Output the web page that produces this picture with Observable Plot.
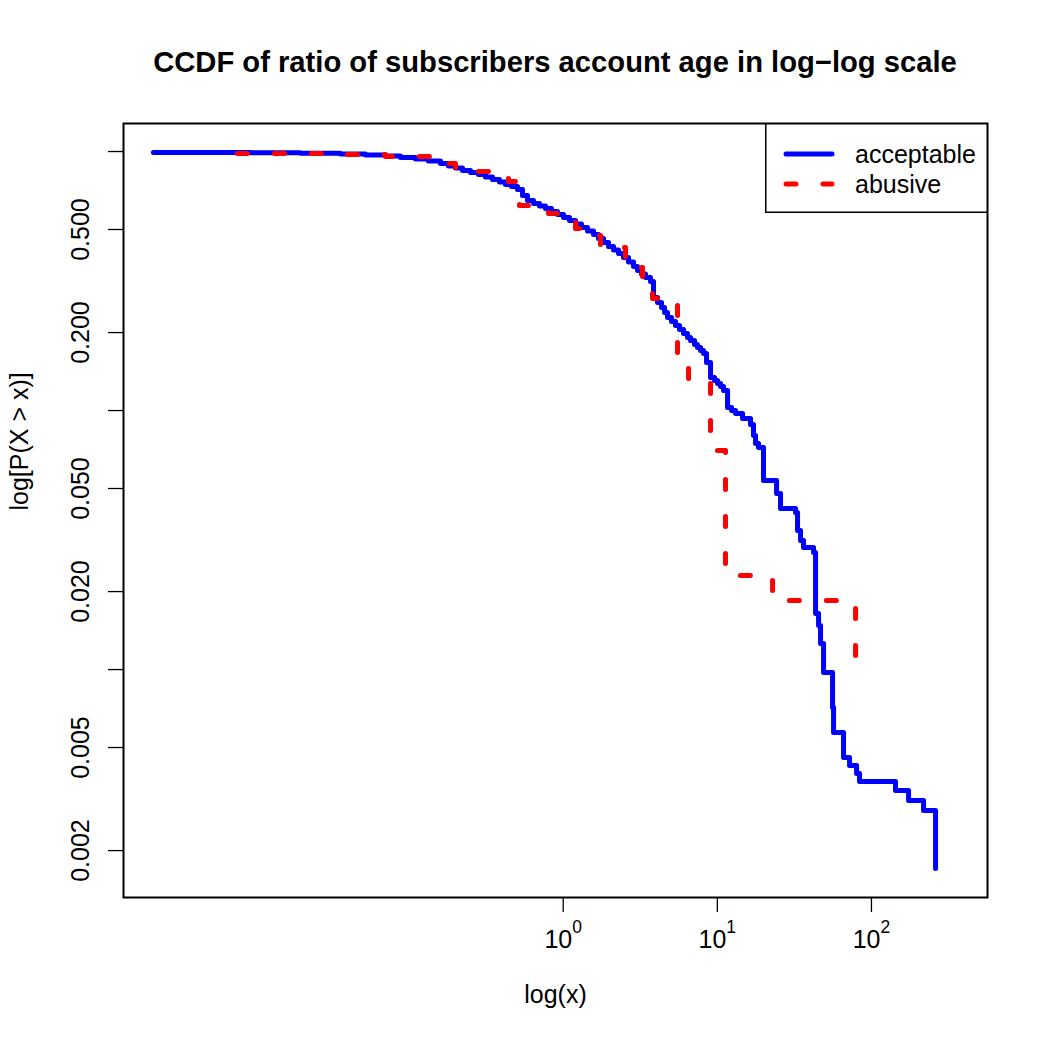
<!DOCTYPE html>
<html>
<head>
<meta charset="utf-8">
<script src="https://cdn.jsdelivr.net/npm/d3@7"></script>
<script src="https://cdn.jsdelivr.net/npm/@observablehq/plot@0.6"></script>
<style>
  body { margin: 0; background: #fff; }
  #chart { position: relative; width: 1050px; height: 1050px; font-family: "Liberation Sans", Arial, Helvetica, sans-serif; }
  #title { position: absolute; left: 123px; width: 864px; top: 48px; text-align: center; font-size: 29.2px; font-weight: bold; line-height: 29px; color: #000; white-space: nowrap; }
</style>
</head>
<body>
<div id="chart"></div>
<script>
// CCDF step points: value x where the curve drops, and P(X > x) after the drop
const acceptableX = [0.002194, 0.00935, 0.01974, 0.03588, 0.05214, 0.07028, 0.0879, 0.1100, 0.1336, 0.1599,
  0.1802, 0.2000, 0.2221, 0.2503, 0.2820, 0.3131, 0.3477, 0.3861, 0.4222, 0.4619,
  0.5051, 0.5444, 0.5866, 0.6415, 0.7017, 0.7676, 0.8396, 0.9183, 1.0045, 1.099,
  1.202, 1.314, 1.438, 1.573, 1.694, 1.826, 1.968, 2.121, 2.285, 2.462,
  2.653, 2.859, 3.035, 3.222, 3.420, 3.686, 3.855, 4.092, 4.345, 4.544,
  4.752, 5.044, 5.355, 5.684, 6.034, 6.407, 6.701, 7.113, 7.438, 7.781,
  8.137, 8.511, 9.035, 9.590, 10.03, 10.49, 10.97, 11.65, 12.37, 13.13,
  14.58, 16.42, 17.17, 17.70, 18.51, 19.94, 24.23, 25.71, 32.17, 33.15,
  34.67, 36.26, 42.11, 43.39, 45.37, 46.74, 48.89, 55.93, 56.78, 65.92,
  72.11, 80.08, 83.72, 143.3, 174.1, 217.8, 260.6];
const acceptableP = [0.9911, 0.9885, 0.9841, 0.9780, 0.9694, 0.9608, 0.9481, 0.9355, 0.9190, 0.8988,
  0.8791, 0.8636, 0.8446, 0.8297, 0.8151, 0.7972, 0.7797, 0.7626, 0.7458, 0.7326,
  0.7133, 0.6764, 0.6470, 0.6300, 0.6161, 0.6025, 0.5866, 0.5712, 0.5560, 0.5416,
  0.5249, 0.5088, 0.4932, 0.4780, 0.4615, 0.4454, 0.4297, 0.4165, 0.4037, 0.3897,
  0.3745, 0.3598, 0.3472, 0.3365, 0.3262, 0.3148, 0.2731, 0.2611, 0.2497, 0.2389,
  0.2286, 0.2207, 0.2129, 0.2055, 0.1983, 0.1913, 0.1864, 0.1797, 0.1751, 0.1705,
  0.1660, 0.1532, 0.1341, 0.1306, 0.1271, 0.1238, 0.1195, 0.1027, 0.1000, 0.09737,
  0.09314, 0.08831, 0.08008, 0.07458, 0.07197, 0.05367, 0.04779, 0.04182, 0.04036, 0.03441,
  0.03148, 0.02958, 0.02829, 0.01645, 0.01479, 0.01260, 0.009737, 0.007133, 0.005709, 0.004573,
  0.004258, 0.003966, 0.003695, 0.003410, 0.003119, 0.002854, 0.001705];

const abusiveX = [0.007697, 0.0309, 0.07028, 0.1418, 0.2000, 0.4416, 0.5205, 0.8028, 0.9605, 1.202,
  1.354, 1.746, 1.968, 2.537, 3.270, 3.798, 5.517, 6.504, 9.035, 11.30,
  22.82, 78.87];
const abusiveP = [0.9824, 0.9737, 0.9565, 0.8988, 0.8372, 0.7659, 0.6188, 0.5762, 0.5511, 0.5042,
  0.4738, 0.4335, 0.4259, 0.3565, 0.3039, 0.2707, 0.1532, 0.1306, 0.07008, 0.02306,
  0.01846, 0.009314];

const seriesNames = ["acceptable", "abusive"];
const seriesColors = ["#0000ff", "#ff0000"];

const xTicks = [1, 10, 100];
const yTicks = [1, 0.5, 0.2, 0.1, 0.05, 0.02, 0.01, 0.005, 0.002];
const yTickLabels = ["", "0.500", "0.200", "", "0.050", "0.020", "", "0.005", "0.002"];

const titleText = "CCDF of ratio of subscribers account age in log\u2212log scale";
const xLabel = "log(x)";
const yLabel = "log[P(X > x)]";

const acceptable = acceptableX.map((x, i) => ({x, p: acceptableP[i]}));
const abusive = abusiveX.map((x, i) => ({x, p: abusiveP[i]}));
const yLabelOf = new Map(yTicks.map((t, i) => [t, yTickLabels[i]]));

const font = "Liberation Sans, Arial, Helvetica, sans-serif";
const FS = 25;
const DASH = "10,27";

const chart = Plot.plot({
  width: 1050,
  height: 1050,
  marginTop: 123,
  marginRight: 63,
  marginBottom: 153,
  marginLeft: 123,
  style: {fontFamily: font, fontSize: `${FS}px`, color: "black", background: "white"},
  x: {type: "log", domain: [0.001403, 566.2]},
  y: {type: "log", domain: [0.001318, 1.283]},
  marks: [
    Plot.axisX(xTicks, {
      tickSize: 15, tickPadding: 18, strokeWidth: 1.3, fontSize: FS, label: null,
      tickFormat: d => `10^${Math.round(Math.log10(d))}`
    }),
    Plot.axisY(yTicks, {
      tickSize: 15, tickPadding: 20, tickRotate: -90, strokeWidth: 1.3, fontSize: FS, label: null,
      tickFormat: d => yLabelOf.get(d)
    }),
    Plot.line(acceptable, {
      x: "x", y: "p", curve: "step-after", stroke: seriesColors[0], strokeWidth: 5,
      strokeLinecap: "round", strokeLinejoin: "round"
    }),
    Plot.line(abusive, {
      x: "x", y: "p", curve: "step-after", stroke: seriesColors[1], strokeWidth: 5,
      strokeDasharray: DASH, strokeLinecap: "round", strokeLinejoin: "round"
    }),
    Plot.frame({stroke: "black", strokeWidth: 2}),
    Plot.text([xLabel], {frameAnchor: "bottom", dy: 105, lineAnchor: "bottom", text: d => d, fontSize: FS}),
    Plot.text([yLabel], {frameAnchor: "left", dx: -96, rotate: -90, lineAnchor: "bottom", text: d => d, fontSize: FS})
  ]
});

// Power-of-ten tick labels: raise the exponent as a superscript
const SVGNS = "http://www.w3.org/2000/svg";
chart.querySelectorAll('g[aria-label="x-axis tick label"] text').forEach(t => {
  const [base, exp] = t.textContent.split("^");
  t.textContent = base;
  const sup = document.createElementNS(SVGNS, "tspan");
  sup.setAttribute("dy", "-15");
  sup.setAttribute("font-size", "17.5");
  sup.textContent = exp;
  t.appendChild(sup);
});

const root = document.getElementById("chart");
chart.style.position = "absolute";
chart.style.left = "0px";
chart.style.top = "0px";
root.appendChild(chart);

const title = document.createElement("div");
title.id = "title";
title.textContent = titleText;
root.appendChild(title);

// Legend box in the top-right corner of the panel
const legend = document.createElementNS(SVGNS, "svg");
legend.setAttribute("width", 223);
legend.setAttribute("height", 90);
legend.setAttribute("style", "position:absolute;left:765px;top:123px;");
let html = `<rect x="0.75" y="0.75" width="221.5" height="88.5" fill="white" stroke="black" stroke-width="1.5"/>`;
seriesNames.forEach((name, i) => {
  const cy = 31 + i * 30;
  html += `<line x1="21" x2="67" y1="${cy}" y2="${cy}" stroke="${seriesColors[i]}" stroke-width="5" stroke-linecap="round"${i === 1 ? ` stroke-dasharray="${DASH}"` : ""}/>`;
  html += `<text x="90" y="${cy + 9}" font-family="${font}" font-size="${FS}" fill="black">${name}</text>`;
});
legend.innerHTML = html;
root.appendChild(legend);
</script>
</body>
</html>
